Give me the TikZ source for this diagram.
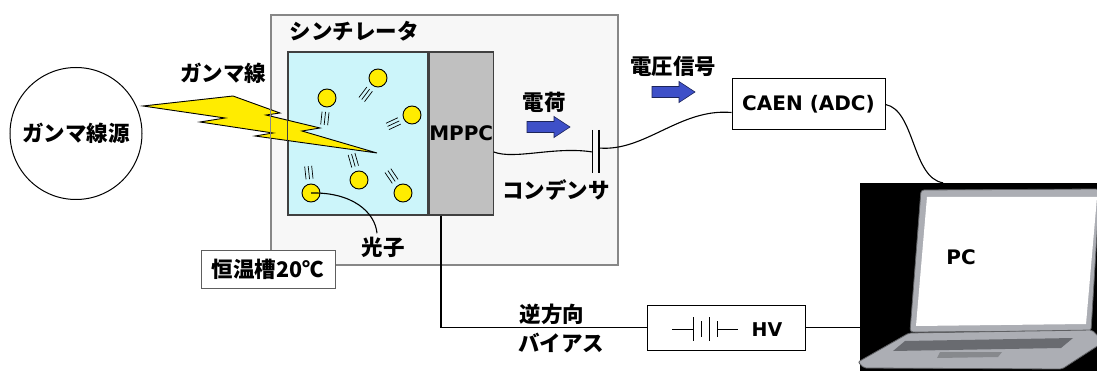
\documentclass[tikz,border=0pt]{standalone}
\usepackage{fontspec}
\setmainfont{Noto Sans CJK JP}
\newfontfamily\latinfont{DejaVu Sans}
\usepackage{tikz}
\usetikzlibrary{positioning, calc}
\definecolor{tankgray}{RGB}{247,247,247}
\definecolor{framegray}{RGB}{135,135,135}
\definecolor{scintcyan}{RGB}{204,245,250}
\definecolor{mppcgray}{RGB}{192,192,192}
\definecolor{photon}{RGB}{255,236,0}
\definecolor{flow}{RGB}{62,80,200}
\definecolor{lapgray}{RGB}{172,174,180}
\definecolor{keygray}{RGB}{105,107,112}

\begin{document}
\begin{tikzpicture}[x=1pt, y=-1pt,
  jp/.style={font=\fontsize{21.5}{24}\selectfont\bfseries},
  en/.style={font=\latinfont\fontsize{20}{24}\selectfont\bfseries},
  wire/.style={line width=1.1pt},
  plate/.style={line width=1.3pt},
  flowarrow/.style={fill=flow, draw=flow!45!black, line width=0.6pt},
  photonball/.style={circle, draw, fill=photon, line width=0.9pt, minimum size=18pt, inner sep=0pt}]
  \useasboundingbox (0,0) rectangle (1097,371);

  \node[draw=framegray, fill=tankgray, line width=1.3pt, minimum width=347pt, minimum height=250pt] (tank) at (444.5,140) {};
  \node[jp] (tanklbl) at (354,31) {シンチレータ};
  \node[draw=black!75, fill=scintcyan, line width=1.2pt, minimum width=140pt, minimum height=163pt] (scint) at (358,133.5) {};
  \node[draw=black!75, fill=mppcgray, line width=1.2pt, minimum width=64pt, minimum height=163pt, inner sep=0pt, en, right=0pt of scint] (mppc) {MPPC};

  % gamma ray bolt, box borders stay on top
  \filldraw[fill=photon, draw=black, line width=0.9pt] (143,106) -- (233,96) -- (280,113) -- (266,115) -- (320,128) -- (302,131) -- (377,153) -- (255,136) -- (273,133) -- (200,122) -- (225,118) -- cycle;
  \draw[framegray, line width=1.3pt] (tank.north west) rectangle (tank.south east);
  \draw[black!75, line width=1.2pt] (scint.north west) rectangle (scint.south east);

  \foreach \n/\px/\py/\a in {1/378/78/233, 2/327/98/264, 3/412/115/205, 4/359/180/106, 5/403/193/124, 6/311/193/96} {
    \begin{scope}[shift={(\px,\py)}, rotate=\a]
      \foreach \d in {-3.5,0,3.5} \draw[line width=0.7pt] (14,\d) -- (27,\d);
    \end{scope}
    \node[photonball] (ph\n) at (\px,\py) {};
  }
  \node[jp] (photonlbl) at (383,247) {光子};
  \draw[wire] (ph6.center) .. controls (352,192) and (375,212) .. ([xshift=-6pt]photonlbl.north);

  \node[draw=framegray!70!black, fill=white, line width=1pt, minimum width=134pt, minimum height=37pt, jp] (templbl) at (268,269.5) {恒温槽20℃};

  \node[circle, draw, line width=1pt, minimum size=132pt, jp] (src) at (76,133.5) {ガンマ線源};
  \node[jp] (gammalbl) at (223,73) {ガンマ線};

  % readout chain
  \node[draw, fill=white, line width=1pt, minimum width=153pt, minimum height=51pt, en] (caen) at (808.5,104.5) {CAEN (ADC)};
  \coordinate (capL) at (592.5,152);
  \coordinate (capR) at (599,148);
  \draw[plate] (592.5,130) -- (592.5,173);
  \draw[plate] (599,130) -- (599,173);
  \draw[wire] (mppc.east |- capL) .. controls (515,160) and (555,146) .. (capL);
  \draw[wire] (capR) .. controls (645,152) and (680,108) .. ([yshift=-8pt]caen.west);
  \node[jp] (caplbl) at (556,190) {コンデンサ};

  \node[jp] (chargelbl) at (544,102) {電荷};
  \node[jp] (voltlbl) at (673,66) {電圧信号};
  \foreach \ax/\ay in {527/127, 652/92}
    \filldraw[flowarrow] (\ax,\ay-5.5) -- ++(27,0) -- ++(0,-5) -- ++(16,10.5) -- ++(-16,10.5) -- ++(0,-5) -- ++(-27,0) -- cycle;

  % laptop
  \node[fill=black, minimum width=237pt, minimum height=188pt, inner sep=0pt] (laptop) at (978.5,277) {};
  \filldraw[fill=lapgray, draw=lapgray!55!black, line width=0.8pt, rounded corners=3pt] (921,190) -- (1099,189) -- (1099,200) -- (1091,331) -- (910,332) -- cycle;
  \fill[white] (927,197) -- (1097,197) -- (1086,324) -- (916,326) -- cycle;
  \filldraw[fill=lapgray, draw=lapgray!55!black, line width=0.8pt, rounded corners=2pt] (909,333) -- (1092,330) -- (1099,337) -- (1099,345) -- (1062,369) -- (864,368) -- (858,362) -- cycle;
  \fill[keygray] (905,341) -- (1073,338) -- (1061,348) -- (893,351) -- cycle;
  \fill[keygray!80!white] (940,352) -- (1002,352) -- (998,357) -- (937,358) -- cycle;
  \node[en] (pc) at (961,257) {PC};
  \draw[wire] (caen.east) .. controls (915,110) and (912,178) .. ([xshift=-35.5pt]laptop.north);

  % bias supply
  \node[draw, line width=1pt, minimum width=158pt, minimum height=45pt] (hv) at (726,327.5) {};
  \node[en, font=\latinfont\fontsize{19}{24}\selectfont\bfseries] (hvlbl) at (767,330) {HV};
  \draw[line width=1pt] (672,329) -- (693,329) (717,329) -- (738,329);
  \foreach \bx/\bh in {693/12, 701/8, 709/12, 717/8}
    \draw[line width=1pt] (\bx,329-\bh) -- (\bx,329+\bh);
  \coordinate (bend) at (441,327.5);
  \draw[wire] (mppc.south -| bend) -- (bend) -- (hv.west);
  \draw[wire] (hv.east) -- (laptop.west |- hv.east);
  \node[jp] (biaslbl) at (552,314) {逆方向};
  \node[jp] (biaslbl2) at (561,343) {バイアス};
\end{tikzpicture}
\end{document}
